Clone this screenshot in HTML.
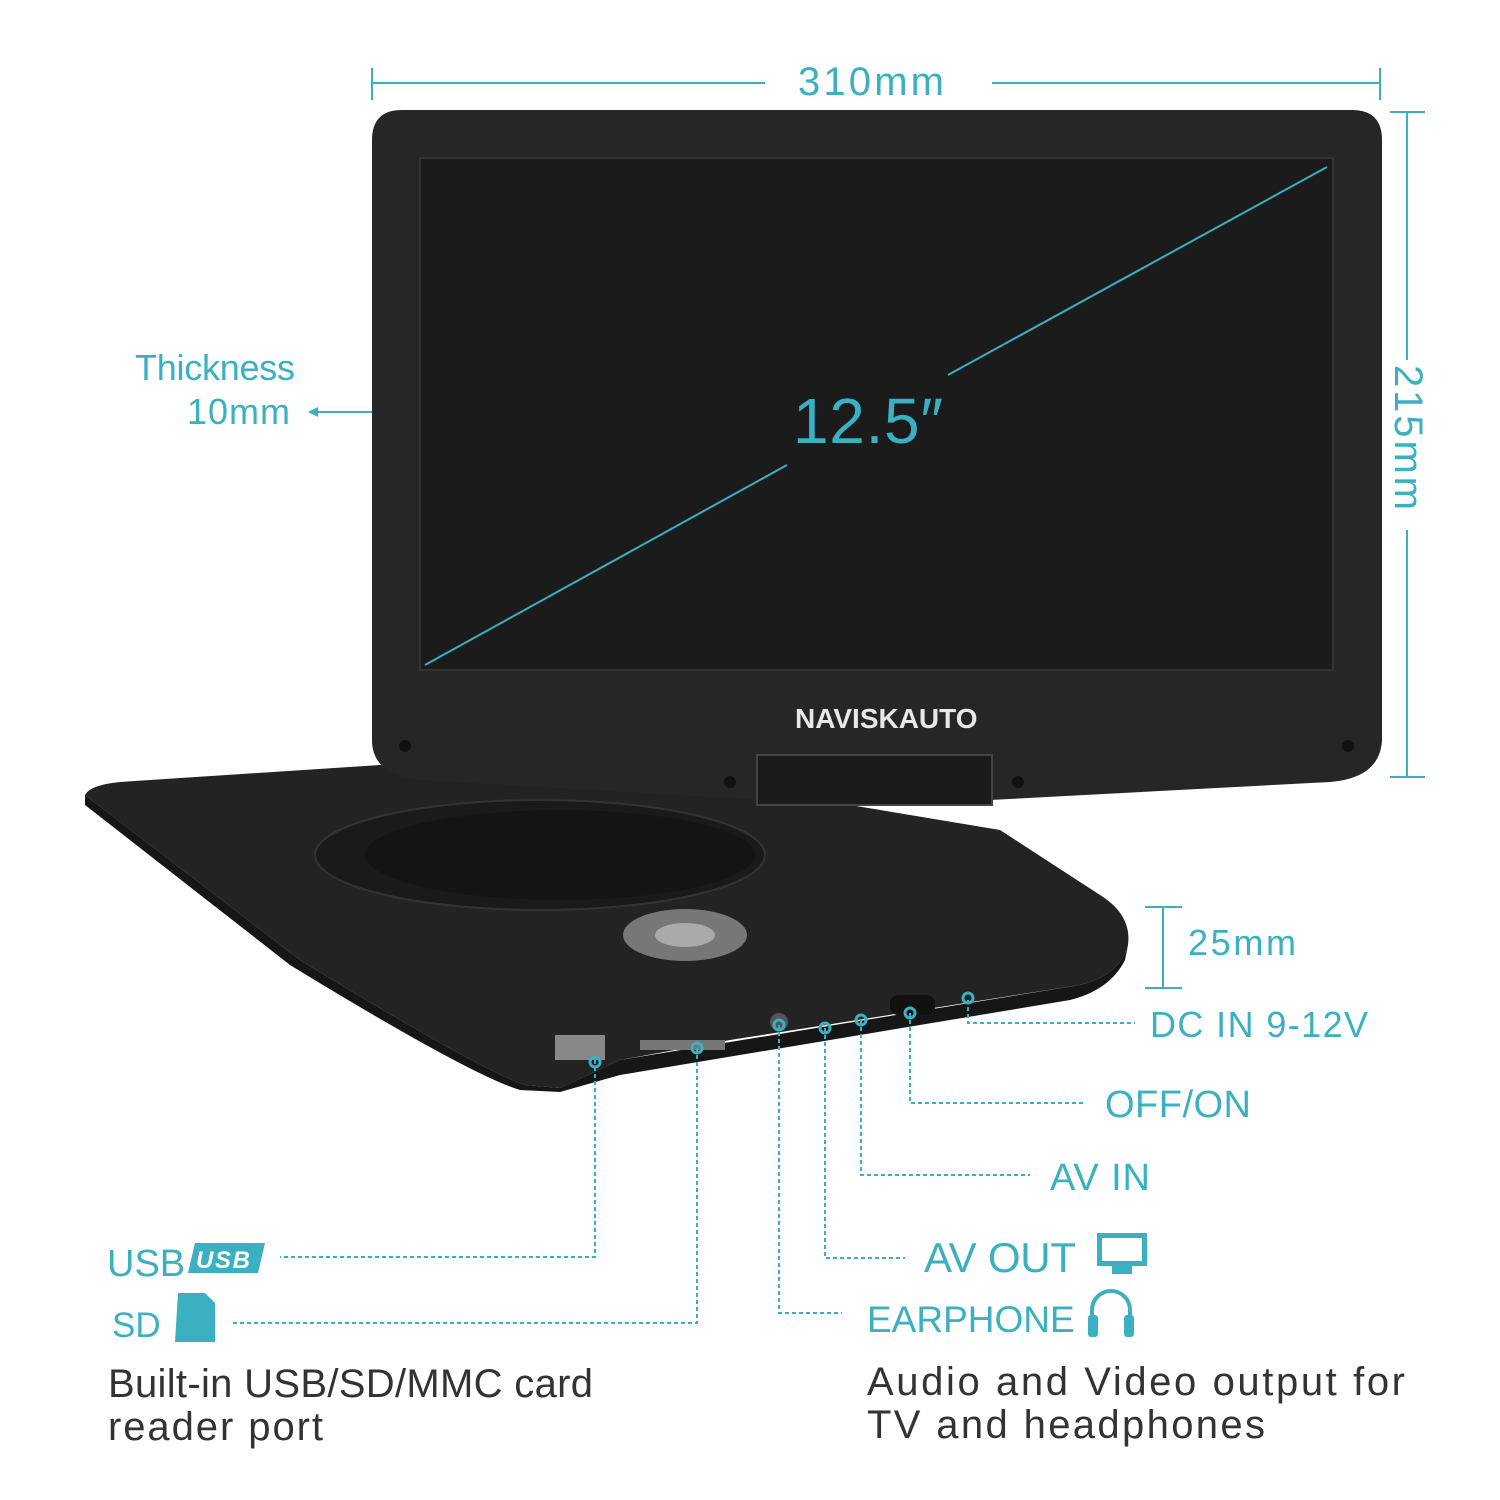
<!DOCTYPE html>
<html><head><style>body{margin:0;background:#fff}svg{display:block}</style></head><body>
<svg width="1500" height="1500" viewBox="0 0 1500 1500" xmlns="http://www.w3.org/2000/svg" font-family="Liberation Sans, sans-serif">
<rect width="1500" height="1500" fill="#fff"/>
<path d="M85,795 Q90,785 120,782 L380,765 L760,790 L1000,830 L1100,895 Q1132,915 1128,945 Q1120,975 1080,985 L730,1040 L620,1060 L560,1088 L525,1085 Q480,1070 300,960 Z" fill="#232323"/>
<path d="M85,795 L300,960 Q480,1070 525,1085 L560,1088 L620,1060 L1080,985 Q1120,975 1128,945 L1125,960 Q1110,990 1070,1000 L620,1075 L560,1092 L520,1090 Q470,1075 290,965 L85,805 Z" fill="#161616"/>
<ellipse cx="540" cy="855" rx="225" ry="55" fill="#1a1a1a" stroke="#333" stroke-width="2"/>
<ellipse cx="560" cy="855" rx="195" ry="45" fill="#141414"/>
<ellipse cx="685" cy="935" rx="62" ry="26" fill="#777"/>
<ellipse cx="685" cy="935" rx="30" ry="12" fill="#aaa"/>
<rect x="555" y="1035" width="50" height="25" fill="#888"/>
<rect x="640" y="1040" width="85" height="10" fill="#777"/>
<circle cx="779" cy="1022" r="9" fill="#555"/>
<rect x="890" y="995" width="45" height="20" rx="8" fill="#111"/>
<path d="M372,140 Q372,110 402,110 L1352,110 Q1382,110 1382,140 L1382,740 Q1380,778 1330,782 L990,800 L760,800 L420,780 Q372,775 372,740 Z" fill="#262626"/>
<rect x="420" y="158" width="913" height="512" fill="#1b1b1b" stroke="#333" stroke-width="2"/>
<rect x="757" y="755" width="235" height="50" fill="#1a1a1a" stroke="#444" stroke-width="2"/>
<text x="795" y="728" font-size="28" font-weight="bold" fill="#e8e8e8">NAVISKAUTO</text>
<g fill="#111"><circle cx="405" cy="746" r="6"/><circle cx="1348" cy="746" r="6"/><circle cx="730" cy="782" r="6"/><circle cx="1018" cy="782" r="6"/></g>
<g stroke="#3ab0c0" stroke-width="2" fill="none">
<line x1="372" y1="83" x2="765" y2="83"/><line x1="992" y1="83" x2="1380" y2="83"/>
<line x1="372" y1="68" x2="372" y2="100"/><line x1="1380" y1="68" x2="1380" y2="100"/>
<line x1="1407" y1="112" x2="1407" y2="360"/><line x1="1407" y1="530" x2="1407" y2="777"/>
<line x1="1390" y1="112" x2="1425" y2="112"/><line x1="1390" y1="777" x2="1425" y2="777"/>
<line x1="312" y1="412" x2="372" y2="412"/>
<line x1="425" y1="665" x2="787" y2="465"/><line x1="948" y1="375" x2="1327" y2="167"/>
<line x1="1163" y1="907" x2="1163" y2="988"/><line x1="1145" y1="907" x2="1182" y2="907"/><line x1="1145" y1="988" x2="1182" y2="988"/>
</g>
<path d="M308,412 L318,407 L318,417 Z" fill="#3ab0c0"/>
<g stroke="#3ab0c0" stroke-width="2" fill="none" stroke-dasharray="4,3">
<polyline points="968,1000 968,1023 1135,1023"/>
<polyline points="910,1013 910,1103 1085,1103"/>
<polyline points="861,1020 861,1175 1030,1175"/>
<polyline points="825,1028 825,1258 905,1258"/>
<polyline points="779,1025 779,1313 842,1313"/>
<polyline points="595,1060 595,1257 280,1257"/>
<polyline points="697,1048 697,1323 232,1323"/>
</g>
<g fill="none" stroke="#3ab0c0" stroke-width="3">
<circle cx="968" cy="998" r="5"/><circle cx="910" cy="1013" r="5"/><circle cx="861" cy="1020" r="5"/><circle cx="825" cy="1028" r="5"/><circle cx="779" cy="1025" r="5"/><circle cx="595" cy="1062" r="5"/><circle cx="697" cy="1048" r="5"/>
</g>
<g fill="#3ab0c0">
<text x="798" y="95" font-size="40" textLength="146">310mm</text>
<text transform="translate(1395,365) rotate(90)" font-size="40" textLength="145">215mm</text>
<text x="135" y="380" font-size="36" textLength="160">Thickness</text>
<text x="187" y="424" font-size="36" textLength="103">10mm</text>
<text x="793" y="443" font-size="64" textLength="150">12.5″</text>
<text x="1188" y="955" font-size="36" textLength="108">25mm</text>
<text x="1150" y="1037" font-size="36" textLength="218">DC IN 9-12V</text>
<text x="1105" y="1117" font-size="38" textLength="146">OFF/ON</text>
<text x="1050" y="1190" font-size="38" textLength="100">AV IN</text>
<text x="924" y="1272" font-size="42" textLength="152">AV OUT</text>
<text x="867" y="1332" font-size="37">EARPHONE</text>
<text x="107" y="1276" font-size="38">USB</text>
<text x="112" y="1337" font-size="35">SD</text>
<path d="M195,1243 L265,1243 L258,1273 L188,1273 Z"/>
<path d="M178,1293 L205,1293 L215,1303 L215,1342 L175,1342 Z"/>
<rect x="1097" y="1233" width="50" height="33"/>
<rect x="1112" y="1266" width="20" height="8"/>
</g>
<text x="196" y="1268" font-size="24" font-weight="bold" font-style="italic" fill="#fff" textLength="54">USB</text>
<rect x="1102" y="1238" width="40" height="23" fill="#fff"/>
<path d="M1092,1325 L1092,1310 A19,19 0 0 1 1130,1310 L1130,1325" fill="none" stroke="#3ab0c0" stroke-width="4"/>
<rect x="1088" y="1315" width="10" height="22" rx="3" fill="#3ab0c0"/><rect x="1124" y="1315" width="10" height="22" rx="3" fill="#3ab0c0"/>
<g fill="#333" font-size="40">
<text x="108" y="1397" textLength="485">Built-in USB/SD/MMC card</text>
<text x="108" y="1440" textLength="215">reader port</text>
<text x="867" y="1395" textLength="538">Audio and Video output for</text>
<text x="867" y="1438" textLength="398">TV and headphones</text>
</g>
</svg>
</body></html>
